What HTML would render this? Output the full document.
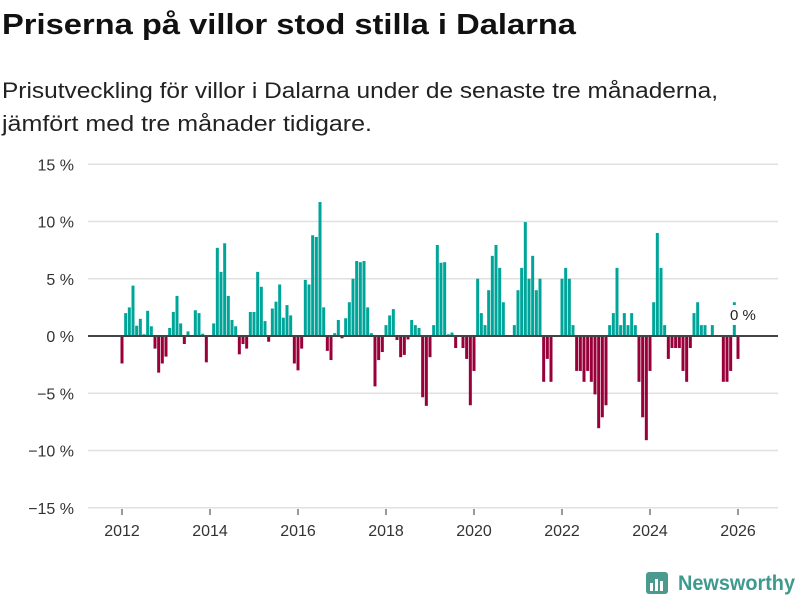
<!DOCTYPE html>
<html><head><meta charset="utf-8"><style>
html,body{margin:0;padding:0;background:#fff;}
svg{display:block;font-family:"Liberation Sans","DejaVu Sans",sans-serif;}
</style></head><body>
<svg id="chart" width="800" height="600" viewBox="0 0 800 600">
<text x="2" y="34" font-size="29" font-weight="bold" fill="#111" textLength="574" lengthAdjust="spacingAndGlyphs">Priserna på villor stod stilla i Dalarna</text>
<text x="2" y="98" font-size="22" fill="#222" textLength="716" lengthAdjust="spacingAndGlyphs">Prisutveckling för villor i Dalarna under de senaste tre månaderna,</text>
<text x="2" y="131" font-size="22" fill="#222" textLength="370" lengthAdjust="spacingAndGlyphs">jämfört med tre månader tidigare.</text>
<g id="grid"></g>
<g id="bars"></g>
<g id="xaxis"></g>
<line x1="88" x2="778" y1="336" y2="336" stroke="#444" stroke-width="2"/>
<rect x="727" y="305" width="34" height="20" fill="#fff"/>
<text x="730" y="320" font-size="15" fill="#222">0 %</text>
<g>
<rect x="646" y="572" width="22" height="22" rx="3" fill="#4a9a8f"/>
<rect x="650" y="583" width="3" height="8" fill="#fff"/><rect x="655" y="579" width="3" height="12" fill="#fff"/><rect x="660" y="581" width="3" height="10" fill="#fff"/>
<text x="678" y="590" font-size="21" font-weight="bold" fill="#3f9a8e" textLength="117" lengthAdjust="spacingAndGlyphs">Newsworthy</text>
</g>
</svg>
<script>
const values = [-2.4,2.0,2.5,4.4,0.9,1.5,0.15,2.2,0.85,-1.1,-3.2,-2.4,-1.8,0.7,2.1,3.5,1.1,-0.7,0.4,0,2.25,2.0,0.2,-2.3,
0,1.1,7.7,5.6,8.1,3.5,1.4,0.85,-1.6,-0.7,-1.1,2.1,2.1,5.6,4.3,1.3,-0.5,2.4,3.0,4.5,1.6,2.7,1.8,-2.4,
-3.0,-1.1,4.9,4.5,8.8,8.65,11.7,2.5,-1.3,-2.1,0.25,1.4,-0.2,1.55,2.95,5.0,6.55,6.45,6.55,2.5,0.25,-4.4,-2.1,-1.4,
0.95,1.8,2.35,-0.35,-1.85,-1.65,-0.3,1.4,0.95,0.7,-5.35,-6.1,-1.85,0.95,7.95,6.4,6.45,0.15,0.3,-1.05,0,-1.05,-2.0,-6.05,
-3.05,5.0,2.0,0.95,4.0,7.0,7.95,5.95,2.95,0,0,0.95,4.0,5.95,9.95,5.0,7.0,4.0,5.0,-4.0,-2.0,-4.0,0,0,
5.0,5.95,5.0,0.95,-3.05,-3.05,-4.0,-3.05,-4.0,-5.1,-8.05,-7.1,-6.05,0.95,2.0,5.95,0.95,2.0,0.95,2.0,0.95,-4.0,-7.1,-9.1,
-3.05,2.95,9.0,5.95,0.95,-2.0,-1.05,-1.05,-1.05,-3.05,-4.0,-1.05,2.0,2.95,0.95,0.95,0,0.95,0,0,-4.0,-4.0,-3.05,2.95,
-2.0];
const startYear = 2012;
const yTicks = [15,10,5,0,-5,-10,-15];
const yTickLabels = ["15 %","10 %","5 %","0 %","−5 %","−10 %","−15 %"];
const xTicks = [2012,2014,2016,2018,2020,2022,2024,2026];

const NS="http://www.w3.org/2000/svg";
const y = v => 336 - v*11.45;
const x = t => 122 + (t-startYear)*44;
const grid=document.getElementById('grid');
yTicks.forEach((t,i)=>{
  if(t!==0){const l=document.createElementNS(NS,'line');
  l.setAttribute('x1',88);l.setAttribute('x2',778);l.setAttribute('y1',y(t));l.setAttribute('y2',y(t));
  l.setAttribute('stroke','#e0e0e0');l.setAttribute('stroke-width','1.5');
  
  
  grid.appendChild(l);}
  const tx=document.createElementNS(NS,'text');
  tx.setAttribute('x',74);tx.setAttribute('y',y(t)+6);tx.setAttribute('text-anchor','end');
  tx.setAttribute('font-size','16');tx.setAttribute('fill','#333');tx.textContent=yTickLabels[i];
  
  
  grid.appendChild(tx);
});
const xa=document.getElementById('xaxis');
xTicks.forEach(t=>{
  const l=document.createElementNS(NS,'line');
  l.setAttribute('x1',x(t));l.setAttribute('x2',x(t));l.setAttribute('y1',509);l.setAttribute('y2',515);
  l.setAttribute('stroke','#333');l.setAttribute('stroke-width','1');
  
  
  xa.appendChild(l);
  const tx=document.createElementNS(NS,'text');
  tx.setAttribute('x',x(t));tx.setAttribute('y',536);tx.setAttribute('text-anchor','middle');
  tx.setAttribute('font-size','16');tx.setAttribute('fill','#333');tx.textContent=t;
  
  
  xa.appendChild(tx);
});
const bars=document.getElementById('bars');
values.forEach((v,i)=>{
  if(v===0)return;
  const cx=x(startYear+i/12);
  const r=document.createElementNS(NS,'rect');
  r.setAttribute('x',cx-1.5);r.setAttribute('width',3);
  r.setAttribute('y',Math.min(y(v),336));r.setAttribute('height',Math.abs(y(v)-336));
  r.setAttribute('fill',v>0?'#00a59a':'#98003a');
  
  
  bars.appendChild(r);
});
</script>
</body></html>
